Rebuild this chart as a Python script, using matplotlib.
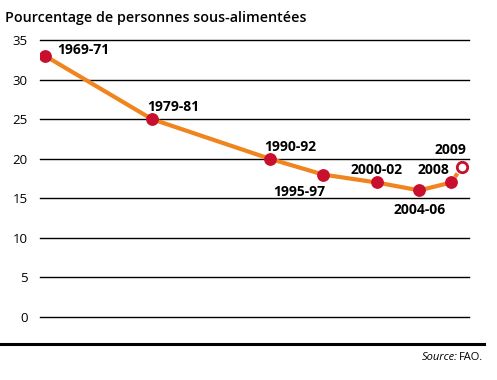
import matplotlib
matplotlib.use("Agg")
import matplotlib.pyplot as plt
from matplotlib.lines import Line2D

plt.rcParams['font.family'] = ['Open Sans', 'DejaVu Sans']

years = [1970, 1980, 1991, 1996, 2001, 2005, 2008, 2009]
values = [33, 25, 20, 18, 17, 16, 17, 19]
labels = ["1969-71", "1979-81", "1990-92", "1995-97", "2000-02", "2004-06", "2008", "2009"]
yticks = [0, 5, 10, 15, 20, 25, 30, 35]

orange = "#f0841e"
red = "#c8102e"

fig = plt.figure(figsize=(4.97, 3.8), dpi=100)
ax = fig.add_axes([40/497, 1-317/380, 429/497, 277/380])
ax.set_xlim(1969.53, 2009.65)
ax.set_ylim(0, 35)
for s in ax.spines.values():
    s.set_visible(False)
ax.set_xticks([])
ax.set_yticks(yticks)
ax.tick_params(axis='y', length=0, pad=9, labelsize=9.5)
for t in yticks:
    ax.axhline(t, color='black', lw=1.0, zorder=1, clip_on=False)

ax.plot(years[:-1], values[:-1], color=orange, lw=3, zorder=2, solid_capstyle='butt')
ax.plot(years[-2:], values[-2:], color=orange, lw=3, ls=(0, (1, 0.6)), zorder=2)
ax.plot(years[:-1], values[:-1], 'o', color=red, ms=8.2, zorder=3, mec=red)
ax.plot(years[-1:], values[-1:], 'o', mfc='white', mec=red, mew=2, ms=7.5, zorder=3)

offsets = [(12, 6, 'left'), (-5, 12, 'left'), (-5, 12, 'left'), (2, -17, 'right'),
           (0, 12, 'center'), (0, -20, 'center'), (-18, 12, 'center'), (-12, 17, 'center')]
for x, y, lab, (dx, dy, ha) in zip(years, values, labels, offsets):
    ax.annotate(lab, (x, y), xytext=(dx, dy), textcoords='offset pixels',
                ha=ha, va='center', fontsize=10, fontweight='bold', zorder=4)

fig.text(5/497, 1-18/380, "Pourcentage de personnes sous-alimentées", fontsize=10.3,
         fontweight='semibold', va='center', ha='left')
fig.add_artist(Line2D([0, 484/497], [1-344/380, 1-344/380], color='black', lw=2.2,
                      transform=fig.transFigure))
fig.text(483/497, 1-357/380, "FAO.", fontsize=8, va='center', ha='right')
fig.text(458/497, 1-357/380, "Source:", fontsize=8, style='italic', va='center', ha='right')

fig.savefig("out.png", dpi=100)
